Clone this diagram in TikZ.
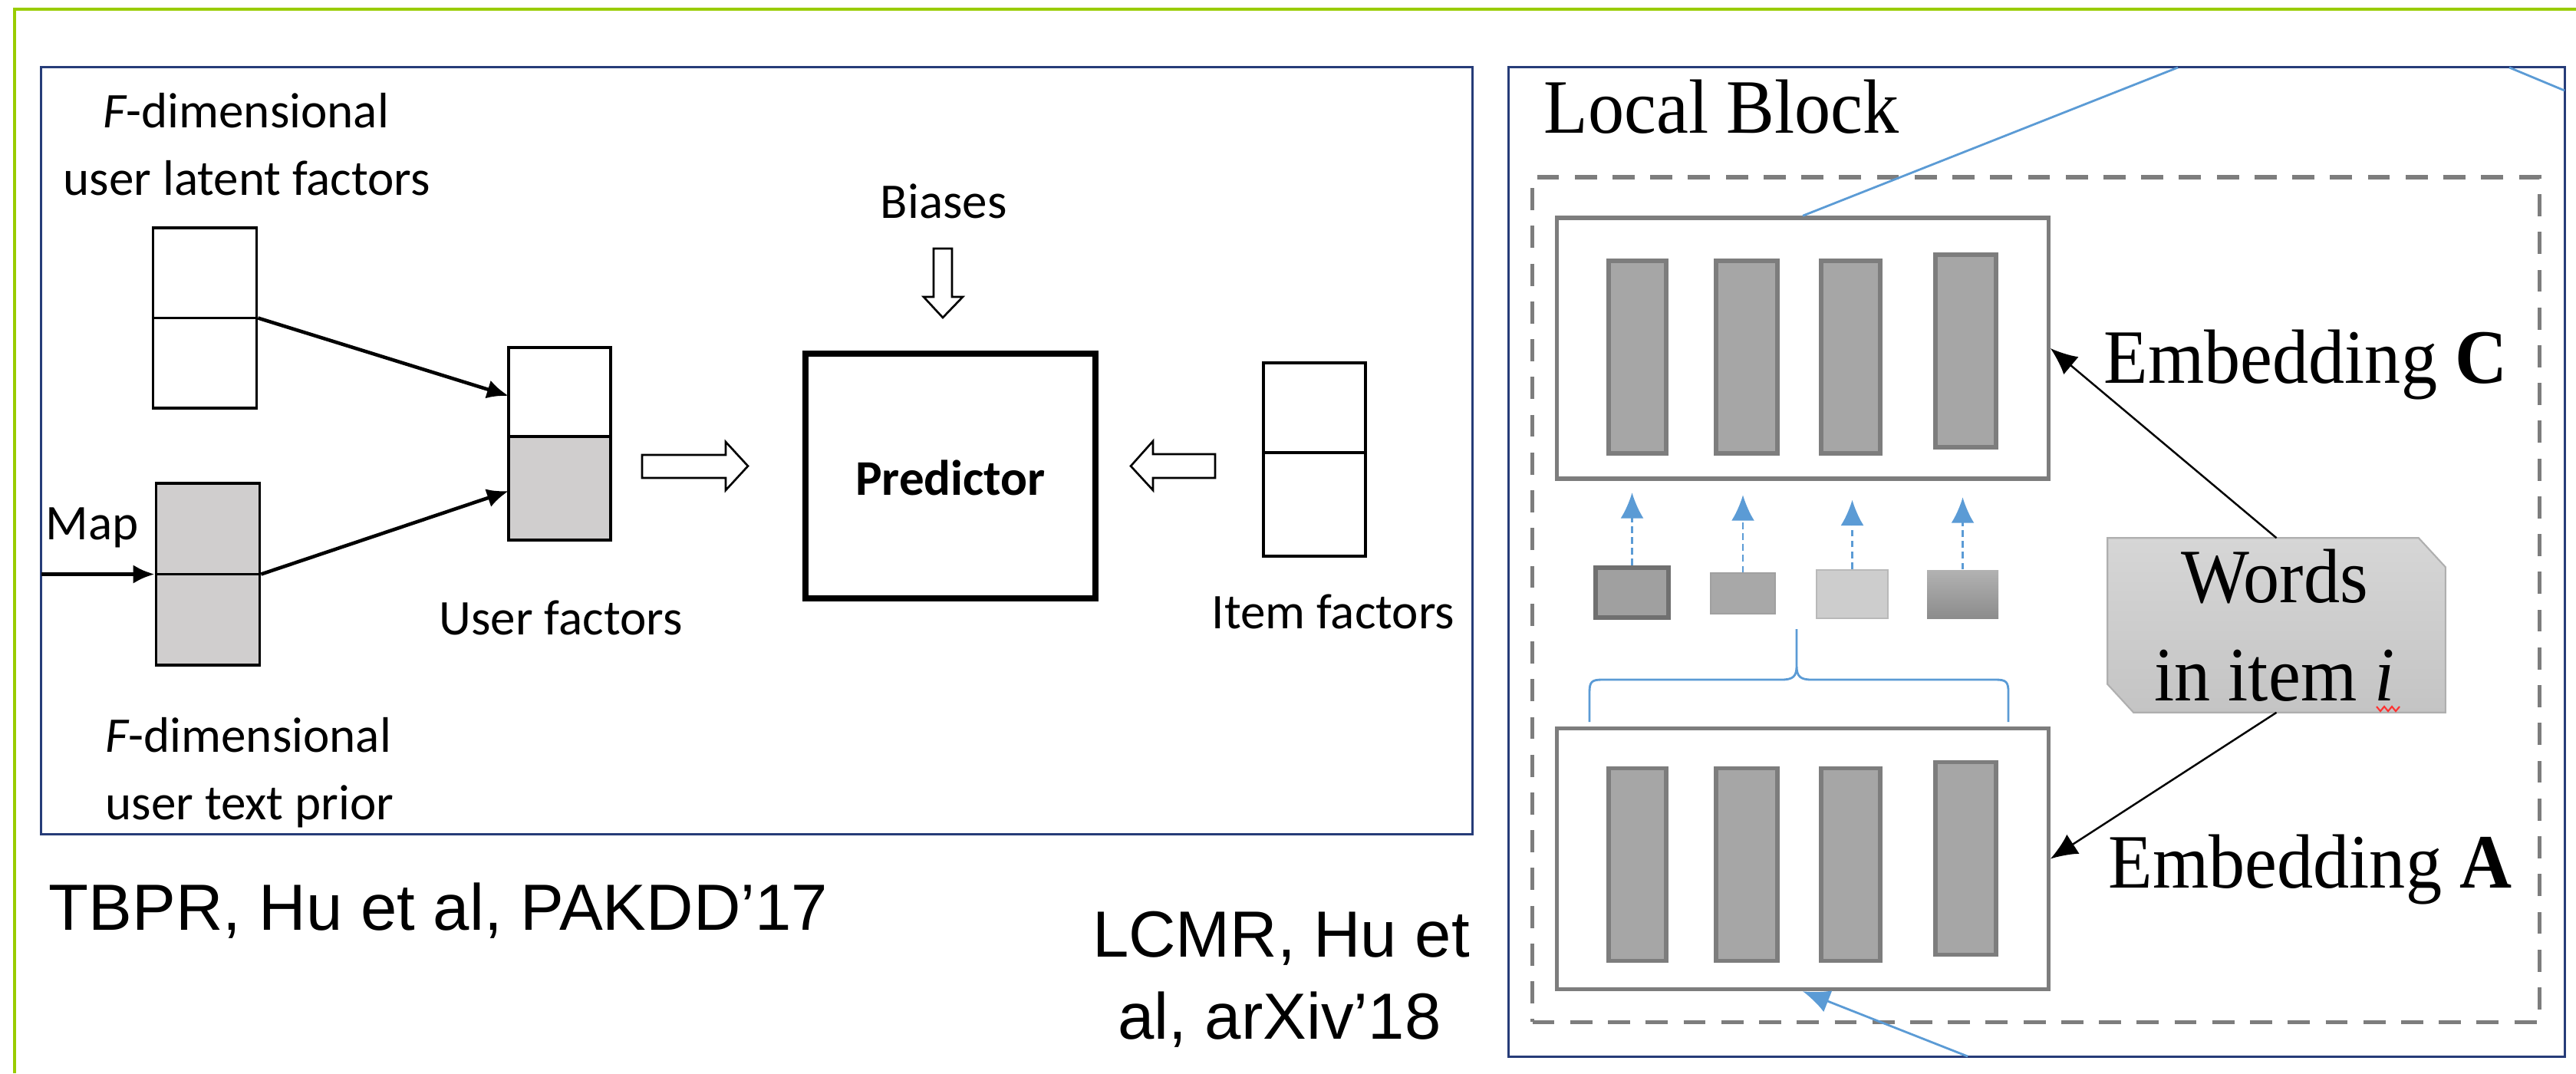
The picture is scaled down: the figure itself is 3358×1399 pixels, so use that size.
\documentclass[tikz,border=0pt]{standalone}
\usepackage{fontspec}
\usetikzlibrary{arrows.meta,calc}
\newfontfamily\calibri{Carlito}
\newfontfamily\timesr[FakeStretch=0.94]{Liberation Serif}
\newfontfamily\arialf{Liberation Sans}

\definecolor{framegreen}{RGB}{153,204,0}
\definecolor{navy}{RGB}{38,60,120}
\definecolor{skyline}{RGB}{91,155,213}
\definecolor{boxgray}{RGB}{125,125,125}
\definecolor{barfill}{RGB}{166,166,166}
\definecolor{lightfill}{RGB}{208,206,206}

\begin{document}
\begin{tikzpicture}[x=0.01cm,y=-0.01cm,
  lbl/.style={font=\calibri\fontsize{18.5}{22}\selectfont, inner sep=0, anchor=base west},
  ser/.style={font=\timesr\fontsize{28.5}{34}\selectfont, inner sep=0, anchor=base west},
  cite/.style={font=\arialf\fontsize{24.2}{29}\selectfont, inner sep=0, anchor=base},
  panel/.style={draw=navy, line width=0.7pt, inner sep=0},
  vec/.style={draw=black, line width=1pt, inner sep=0, minimum width=1.35cm},
  conn/.style={line width=1.3pt, -{Latex[length=8pt,width=7pt]}},
  hollow/.style={draw=black, line width=0.75pt, fill=white},
  embox/.style={draw=boxgray, line width=1.5pt, inner sep=0, minimum width=6.4cm, minimum height=3.4cm},
  bar/.style={draw=boxgray, fill=barfill, line width=1.6pt, inner sep=0, minimum height=2.51cm},
  skyl/.style={draw=skyline, line width=0.8pt},
  darr/.style={draw=black, line width=0.7pt, -{Latex[length=10pt,width=8.5pt]}},
  wordarr/.style={skyline, line width=0.7pt, dash pattern=on 2.5pt off 1.5pt, -{Latex[length=9.5pt,width=8.5pt]}},
]
\useasboundingbox (0,0) rectangle (3358,1399);

% slide frame
\draw[framegreen, line width=1.2pt] (19,1399) -- (19,12) -- (3358,12);

% ---------- TBPR panel ----------
\node[panel, minimum width=18.65cm, minimum height=9.99cm] (tbpr) at (986.5,587.5) {};

\node[lbl] (fd1) at (134,166) {{\itshape F}-dimensional};
\node[lbl] (ulf) at (82,254) {user latent factors};

\node[vec, minimum height=2.35cm] (lat) at (267,414.5) {};
\draw[line width=1pt] (lat.west) -- (lat.east);

\node[vec, fill=lightfill, minimum height=2.37cm] (txt) at (271,748.5) {};
\draw[line width=1pt] (txt.west) -- (txt.east);
\node[lbl] (map) at (59,703) {Map};
\coordinate (mapsrc) at (54,748.5);
\draw[conn, line width=1.5pt] (mapsrc) -- (txt.west);

\node[vec, minimum width=1.33cm, minimum height=1.16cm] (uft) at (729.5,511) {};
\node[vec, fill=lightfill, minimum width=1.33cm, minimum height=1.35cm] (ufb) at (729.5,636.5) {};
\coordinate (in1) at (663,516);
\coordinate (in2) at (663,640);
\draw[conn] (lat.east) -- (in1);
\draw[conn] (txt.east) -- (in2);
\node[lbl] (uflbl) at (572,827) {User factors};

\node[lbl] (fd2) at (137,980) {{\itshape F}-dimensional};
\node[lbl] (utp) at (137,1068) {user text prior};

% predictor and its inputs
\node[draw=black, line width=2.1pt, inner sep=0, minimum width=3.78cm, minimum height=3.19cm] (pred) at (1239,620.5) {};
\node[font=\calibri\bfseries\fontsize{18.5}{22}\selectfont, inner sep=0, anchor=base] (ptxt) at (1239,645) {Predictor};
\node[lbl] (bias) at (1147,284) {Biases};

\path[hollow] (837,593) -- (946,593) -- (946,576) -- (975,607.5) -- (946,639) -- (946,623) -- (837,623) -- cycle;
\path[hollow] (1217,324) -- (1241,324) -- (1241,387) -- (1255,387) -- (1229,414) -- (1204,387) -- (1217,387) -- cycle;
\path[hollow] (1584,592) -- (1503,592) -- (1503,575) -- (1474,607.5) -- (1503,639) -- (1503,623) -- (1584,623) -- cycle;

\node[vec, minimum width=1.33cm, minimum height=2.52cm] (item) at (1713.5,599) {};
\draw[line width=1pt] ($(item.west)+(0,-9)$) -- ($(item.east)+(0,-9)$);
\node[lbl] (itlbl) at (1579,819) {Item factors};

\node[cite, anchor=base west] (tbprcite) at (63,1212) {TBPR, Hu et al, PAKDD’17};
\node[cite] (lcmr1) at (1670,1247) {LCMR, Hu et};
\node[cite] (lcmr2) at (1668,1354) {al, arXiv’18};

% ---------- LCMR local block ----------
\node[panel, minimum width=13.76cm, minimum height=12.89cm] (lcmr) at (2655,732.5) {};
\node[ser] (title) at (2012,173) {Local Block};
\node[draw=boxgray, line width=1.6pt, dash pattern=on 8.2pt off 5.8pt, inner sep=0,
      minimum width=13.12cm, minimum height=11.01cm] (local) at (2654,781.5) {};

\node[embox] (cbox) at (2350,454) {};
\node[bar, minimum width=0.75cm] (c1) at (2134.5,465.5) {};
\node[bar, minimum width=0.80cm] (c2) at (2277,465.5) {};
\node[bar, minimum width=0.77cm] (c3) at (2412.5,465.5) {};
\node[bar, minimum width=0.79cm] (c4) at (2562.5,457.5) {};

\node[embox] (abox) at (2350,1119.5) {};
\node[bar, minimum width=0.75cm] (a1) at (2134.5,1127) {};
\node[bar, minimum width=0.80cm] (a2) at (2277,1127) {};
\node[bar, minimum width=0.77cm] (a3) at (2412.5,1127) {};
\node[bar, minimum width=0.79cm] (a4) at (2562.5,1119) {};

% word vectors
\node[draw={rgb,255:red,112;green,112;blue,112}, fill={rgb,255:red,160;green,160;blue,160}, line width=1.6pt, inner sep=0, minimum width=0.95cm, minimum height=0.65cm] (s1) at (2127.5,772.5) {};
\node[fill={rgb,255:red,168;green,168;blue,168}, draw={rgb,255:red,160;green,160;blue,160}, line width=0.4pt, inner sep=0, minimum width=0.84cm, minimum height=0.53cm] (s2) at (2272,773.5) {};
\node[fill={rgb,255:red,205;green,205;blue,205}, draw={rgb,255:red,185;green,185;blue,185}, line width=0.8pt, inner sep=0, minimum width=0.93cm, minimum height=0.63cm] (s3) at (2414.5,774.5) {};
\node[top color={rgb,255:red,178;green,178;blue,178}, bottom color={rgb,255:red,140;green,140;blue,140}, inner sep=0, minimum width=0.93cm, minimum height=0.63cm] (s4) at (2558.5,774.5) {};

\draw[wordarr] (s1.north) -- ++(0,-95);
\draw[wordarr] (s2.north) -- ++(0,-101);
\draw[wordarr] (s3.north) -- ++(0,-90);
\draw[wordarr] (s4.north) -- ++(0,-94);

% brace over the A memory
\draw[skyl] (2072,941) -- (2072,902) .. controls (2072,889) and (2075,886) .. (2088,886)
  -- (2322,886) .. controls (2337,886) and (2342,882) .. (2342,868) -- (2342,820)
  (2342,868) .. controls (2342,882) and (2347,886) .. (2362,886)
  -- (2602,886) .. controls (2615,886) and (2618,889) .. (2618,902) -- (2618,941);

% words of item i
\node[inner sep=0, minimum width=4.39cm, minimum height=2.26cm] (words) at (2967.5,815) {};
\shade[top color={rgb,255:red,214;green,214;blue,214}, bottom color={rgb,255:red,196;green,196;blue,196},
       draw={rgb,255:red,175;green,175;blue,175}, line width=0.6pt]
  (words.north west) -- ($(words.north east)+(-35,0)$) -- ($(words.north east)+(0,38)$)
  -- (words.south east) -- ($(words.south west)+(34,0)$) -- ($(words.south west)+(0,-37)$) -- cycle;
\node[ser, anchor=base] (w1) at (2965,785) {Words};
\node[ser, anchor=base] (w2) at (2965,913) {in item \textit{i}};
\draw[red!80, line width=0.6pt] (3098,921) -- (3103,927) -- (3108,921) -- (3113,927) -- (3118,921) -- (3123,927) -- (3128,921);

\draw[darr] (words.north) -- (cbox.east);
\draw[darr] (words.south) -- (abox.east);
\node[ser] (embc) at (2742,499) {Embedding \textbf{C}};
\node[ser] (emba) at (2748,1157) {Embedding \textbf{A}};

% links to neighbouring blocks
\coordinate (upout) at (2839,88);
\coordinate (cornerin) at (3271,88);
\coordinate (cornerout) at (3343,118);
\coordinate (lowin) at (2565,1377);
\draw[skyl] (cbox.north) -- (upout);
\draw[skyl] (cornerin) -- (cornerout);
\draw[skyl, -{Latex[length=10pt,width=8.5pt]}] (lowin) -- (abox.south);
\end{tikzpicture}
\end{document}
